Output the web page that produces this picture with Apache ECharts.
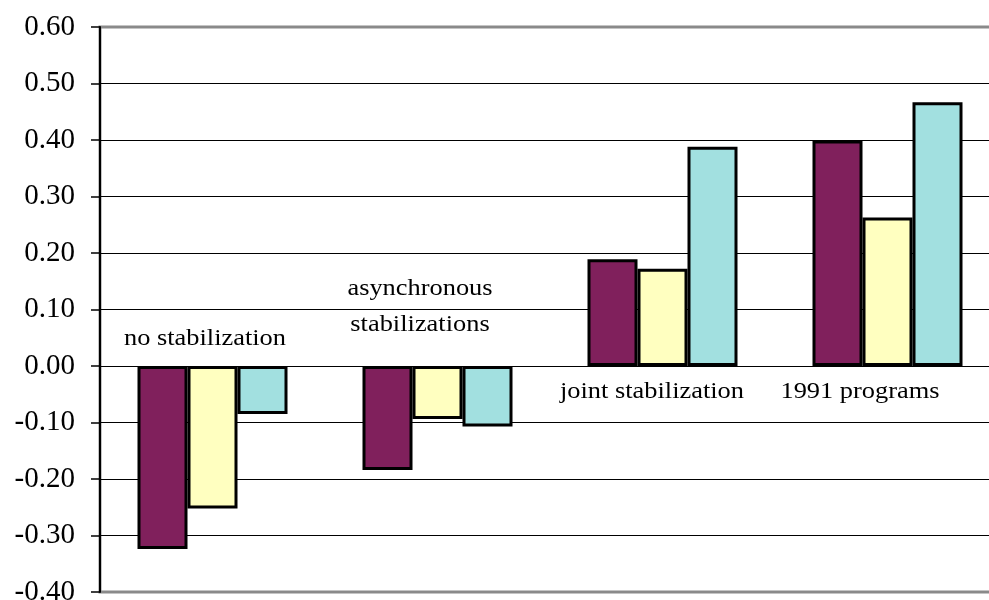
<!DOCTYPE html>
<html>
<head>
<meta charset="utf-8">
<script src="https://cdn.jsdelivr.net/npm/echarts@6/dist/echarts.min.js"></script>
<style>
  html, body { margin: 0; padding: 0; background: #fff; overflow: hidden; }
  #chart { width: 989px; height: 600px; }
</style>
</head>
<body>
<div id="chart"></div>
<script>
// Scenario categories (group labels)
const categories = ['no stabilization', 'asynchronous\nstabilizations', 'joint stabilization', '1991 programs'];

// Three series per scenario
const seriesA = [-0.324, -0.184, 0.189, 0.399];
const seriesB = [-0.252, -0.094, 0.172, 0.263];
const seriesC = [-0.085, -0.107, 0.388, 0.467];

// Value axis range and step
const yMin = -0.4;
const yMax = 0.6;
const yStep = 0.1;

// Horizontal nudge and distance from the zero line for each group label
const labelNudge = [[-7.5, 27], [-17.5, 59], [-10.5, 26], [-27.5, 26]];

const FONT = '"Liberation Serif", "Times New Roman", serif';

const chart = echarts.init(document.getElementById('chart'), null, { renderer: 'canvas' });

function barSeries(values, color) {
  return {
    type: 'bar',
    data: values,
    barWidth: 50,
    barGap: '0%',
    itemStyle: { color: color, borderColor: '#000', borderWidth: 3 },
    emphasis: { disabled: true },
    z: 3
  };
}

chart.setOption({
  animation: false,
  grid: {
    left: 100, top: 27, width: 900, height: 565,
    outerBoundsMode: 'none',
    containLabel: false,
    show: true, borderColor: '#8a8a8a', borderWidth: 3, backgroundColor: 'transparent'
  },
  xAxis: {
    type: 'category',
    data: categories,
    axisLine: { show: false },
    axisTick: { show: false },
    axisLabel: { show: false },
    splitLine: { show: false }
  },
  yAxis: {
    type: 'value',
    min: yMin, max: yMax, interval: yStep,
    axisLine: { show: true, lineStyle: { color: '#000', width: 2 } },
    axisTick: { show: true, length: 9, inside: false, lineStyle: { color: '#000', width: 1.5 } },
    axisLabel: {
      margin: 25,
      fontFamily: FONT, fontSize: 29, color: '#000',
      formatter: v => v.toFixed(2)
    },
    splitLine: { show: true, showMinLine: false, showMaxLine: false, lineStyle: { color: '#000', width: 1 } }
  },
  series: [
    barSeries(seriesA, '#80205c'),
    barSeries(seriesB, '#ffffc0'),
    barSeries(seriesC, '#a2e0e0'),
    {
      // Group labels sit on the side of the zero line away from the bars
      type: 'custom',
      data: categories.map((c, i) => [i, 0]),
      silent: true,
      z: 5,
      renderItem: function (params, api) {
        const i = api.value(0);
        const p = api.coord([i, 0]);
        const below = seriesA[i] + seriesB[i] + seriesC[i] > 0;
        const n = labelNudge[i];
        return {
          type: 'text',
          x: p[0] + n[0],
          y: p[1] + (below ? n[1] : -n[1]),
          scaleX: 1.1,
          style: {
            text: categories[i],
            font: '24px ' + FONT,
            fill: '#000',
            align: 'center',
            verticalAlign: 'middle',
            lineHeight: 36
          }
        };
      }
    }
  ]
});
</script>
</body>
</html>
